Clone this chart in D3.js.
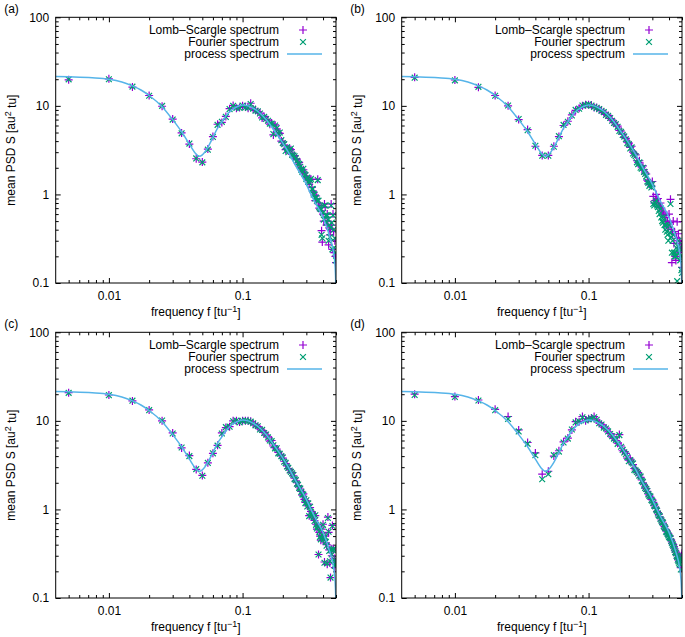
<!DOCTYPE html>
<html><head><meta charset="utf-8">
<script src="https://cdn.jsdelivr.net/npm/d3@7"></script>
<style>
body{margin:0;background:#fff}
text{font-family:"Liberation Sans",Arial,Helvetica,sans-serif;font-size:12px;fill:#000}
</style>
</head><body>
<svg id="chart" width="685" height="637"></svg>
<script>
// ---------------- data ----------------
const freq = [0.005,0.01,0.015,0.02,0.025,0.03,0.035,0.04,0.045,0.05,
0.055,0.06,0.065,0.07,0.075,0.08,0.085,0.09,0.095,0.1,
0.105,0.11,0.115,0.12,0.125,0.13,0.135,0.14,0.145,0.15,
0.155,0.16,0.165,0.17,0.175,0.18,0.185,0.19,0.195,0.2,
0.205,0.21,0.215,0.22,0.225,0.23,0.235,0.24,0.245,0.25,
0.255,0.26,0.265,0.27,0.275,0.28,0.285,0.29,0.295,0.3,
0.305,0.31,0.315,0.32,0.325,0.33,0.335,0.34,0.345,0.35,
0.355,0.36,0.365,0.37,0.375,0.38,0.385,0.39,0.395,0.4,
0.405,0.41,0.415,0.42,0.425,0.43,0.435,0.44,0.445,0.45,
0.455,0.46,0.465,0.47,0.475,0.48,0.485,0.49,0.495,0.5];

const processFreq = [0.004,0.005,0.0075,0.01,0.0125,0.015,0.0175,0.02,0.025,0.03,0.035,0.04,0.045,0.0475,0.05,0.055,0.06,0.065,0.07,0.075,0.08,0.09,0.1,0.11,0.12,0.13,0.15,0.175,0.2,0.22,0.25,0.3,0.325,0.35,0.4,0.45,0.48,0.49,0.495,0.4975,0.5];
const processPSD  = [21.5,21.3,20.8,20.0,18.6,16.8,15.0,13.1,9.8,7.0,5.1,3.7,2.85,2.7,2.8,3.4,4.4,5.6,6.6,7.7,8.6,9.7,10.2,10.0,9.4,8.7,7.0,5.1,3.8,3.0,2.1,1.3,1.0,0.8,0.55,0.33,0.22,0.17,0.13,0.1,0.05];

const lombA = [19.7,20.2,16.3,13.1,9.9,7.1,4.95,3.7,2.53,2.32,
3.25,4.5,6.2,6.5,7.6,9.3,10.1,9.4,9.6,10.0,
9.7,9.4,10.7,9.2,8.9,8.6,8.3,7.3,7.6,7.0,
6.9,6.2,6.4,4.7,6.1,5.5,5.0,4.9,4.0,3.9,
3.6,3.2,3.3,3.1,3.3,3.2,2.9,2.7,2.75,2.5,
2.5,2.2,2.3,2.0,1.95,1.84,1.9,1.75,1.6,1.55,
1.5,1.45,1.3,1.48,1.48,1.2,1.1,1.05,0.98,0.85,
0.96,0.9,1.48,0.8,0.7,0.75,0.65,0.39,0.29,0.6,
0.5,0.78,0.72,0.55,0.45,0.6,0.5,0.27,0.42,0.35,
0.4,0.78,0.45,0.24,0.6,0.38,0.22,0.3,0.2,0.17];
const fourierA = [19.9,20.0,16.5,13.0,10.0,7.0,4.9,3.75,2.55,2.3,
3.2,4.45,6.1,6.6,7.5,9.2,10.0,9.5,9.5,10.1,
9.6,9.5,10.5,9.3,8.8,8.7,8.2,7.4,7.5,7.1,
6.8,6.3,6.3,4.8,6.0,5.6,4.9,5.0,4.1,3.8,
3.7,3.1,3.4,3.0,3.2,3.3,2.8,2.75,2.7,2.55,
2.4,2.25,2.2,2.05,1.9,1.8,1.95,1.7,1.65,1.5,
1.55,1.4,1.35,1.45,1.5,1.15,1.15,1.0,1.0,0.9,
0.92,0.85,1.45,0.85,0.72,0.7,0.68,0.35,0.32,0.62,
0.52,0.75,0.75,0.58,0.48,0.58,0.52,0.3,0.45,0.33,
0.42,0.75,0.48,0.24,0.58,0.4,0.25,0.32,0.22,0.18];

const lombB = [21.0,19.6,16.2,13.1,10.0,7.0,5.4,3.5,2.76,2.76,
3.5,4.5,6.0,6.7,7.9,8.9,9.4,10.0,10.3,10.3,
10.2,9.6,9.6,9.1,8.9,8.4,8.0,7.8,7.2,6.9,
6.5,6.1,5.9,5.3,5.2,4.8,4.4,4.3,3.9,3.8,
3.4,3.5,3.0,2.9,2.8,2.4,2.3,2.4,2.1,2.0,
2.1,1.9,1.75,1.7,1.45,1.4,1.3,1.35,1.25,1.4,
0.95,0.8,0.85,1.0,0.88,0.9,0.78,0.72,0.8,0.7,
0.65,0.6,0.63,0.55,0.5,0.58,0.45,0.5,0.42,0.6,
0.48,0.88,0.4,0.17,0.36,0.5,0.28,0.38,0.2,0.18,
0.32,0.49,0.3,0.36,0.25,0.3,0.22,0.28,0.25,0.15];
const fourierB = [20.8,19.4,16.4,13.0,10.1,7.1,5.3,3.55,2.74,2.74,
3.45,4.55,6.1,6.6,7.8,9.0,9.3,10.1,10.2,10.4,
10.1,9.7,9.5,9.2,8.8,8.5,7.9,7.7,7.3,6.8,
6.4,6.2,5.8,5.2,5.1,4.7,4.5,4.2,3.8,3.7,
3.3,3.4,2.9,2.8,2.7,2.3,2.2,2.3,2.0,1.95,
2.0,1.8,1.7,1.6,1.4,1.35,1.25,1.3,1.2,1.3,
0.78,0.75,0.8,0.85,0.75,0.72,0.65,0.6,0.7,0.55,
0.5,0.48,0.55,0.45,0.4,0.45,0.38,0.35,0.3,0.45,
0.37,0.78,0.33,0.22,0.3,0.35,0.22,0.2,0.22,0.2,
0.25,0.105,0.26,0.3,0.22,0.25,0.18,0.2,0.14,0.13];

const lombC = [20.8,19.6,16.8,13.3,10.0,7.3,4.95,4.06,2.83,2.42,
3.36,4.3,5.3,7.3,8.4,8.6,10.0,10.0,9.7,10.0,
10.0,10.0,9.9,9.3,9.0,8.6,8.1,7.8,7.4,6.9,
6.6,5.9,6.0,5.2,5.0,4.8,4.4,4.2,4.1,3.8,
3.5,3.3,3.1,2.9,2.8,2.6,2.6,2.4,2.25,2.1,
2.0,1.85,1.8,1.7,1.6,1.45,1.5,1.3,1.2,1.25,
1.1,1.15,0.85,1.05,0.95,0.85,0.9,0.8,0.75,0.85,
0.68,0.6,0.65,0.31,0.55,0.5,0.45,0.6,0.5,0.68,
0.45,0.255,0.5,0.42,0.4,0.24,0.82,0.55,0.35,0.25,
0.17,0.36,0.3,0.66,0.36,0.35,0.28,0.22,0.25,0.255];
const fourierC = [20.7,19.5,16.9,13.2,10.1,7.2,5.0,4.0,2.85,2.4,
3.35,4.3,5.25,7.2,8.5,8.6,9.9,10.1,9.6,10.0,
10.1,9.9,9.8,9.4,8.9,8.7,8.0,7.9,7.3,7.0,
6.5,6.0,5.9,5.3,4.9,4.9,4.3,4.25,4.0,3.85,
3.45,3.35,3.05,2.95,2.75,2.65,2.55,2.45,2.2,2.15,
1.95,1.9,1.75,1.72,1.58,1.48,1.47,1.32,1.18,1.27,
1.08,1.17,0.84,1.07,0.93,0.86,0.88,0.82,0.74,0.86,
0.67,0.61,0.64,0.31,0.56,0.49,0.46,0.59,0.51,0.67,
0.46,0.25,0.49,0.43,0.39,0.245,0.8,0.56,0.34,0.26,
0.17,0.35,0.31,0.65,0.35,0.36,0.27,0.23,0.24,0.25];

const lombD = [20.0,18.8,17.2,13.5,11.2,7.9,5.7,4.35,2.5,2.7,
4.0,4.6,5.8,6.4,7.9,9.8,9.8,11.2,10.0,10.6,
10.8,11.2,10.2,9.5,9.0,8.5,8.3,7.5,7.2,6.6,
6.4,6.0,5.6,7.0,5.2,4.6,4.5,4.3,3.8,3.6,
3.7,3.5,3.2,2.9,2.8,2.7,2.6,2.45,2.3,2.15,
2.0,1.9,1.8,1.72,1.6,1.5,1.45,1.38,1.3,1.28,
1.2,1.12,1.06,1.03,0.95,0.92,0.88,0.82,0.8,0.76,
0.74,0.7,0.67,0.64,0.6,0.58,0.57,0.54,0.53,0.5,
0.5,0.46,0.45,0.43,0.41,0.4,0.38,0.36,0.34,0.33,
0.31,0.3,0.28,0.27,0.26,0.25,0.28,0.22,0.3,0.32];
const fourierD = [19.6,18.6,17.0,13.2,10.5,7.6,5.5,4.1,2.19,2.5,
4.1,4.5,5.7,6.3,8.0,9.6,9.9,11.0,10.1,10.4,
10.6,11.0,10.3,9.4,9.1,8.4,8.2,7.6,7.1,6.7,
6.3,6.1,5.5,6.9,5.1,4.7,4.4,4.2,3.9,3.5,
3.6,3.4,3.3,2.8,2.75,2.65,2.55,2.4,2.35,2.1,
2.05,1.85,1.75,1.7,1.62,1.48,1.42,1.4,1.28,1.25,
1.18,1.1,1.08,1.0,0.97,0.9,0.86,0.84,0.78,0.75,
0.72,0.71,0.65,0.63,0.61,0.56,0.55,0.53,0.51,0.49,
0.48,0.47,0.44,0.42,0.4,0.39,0.37,0.35,0.33,0.32,
0.3,0.29,0.27,0.26,0.25,0.24,0.26,0.21,0.28,0.3];

const panelLabels = ["(a)","(b)","(c)","(d)"];
const lombSeries = [lombA, lombB, lombC, lombD];
const fourierSeries = [fourierA, fourierB, fourierC, fourierD];
const xDomain = [0.004, 0.5];
const yDomain = [0.1, 100];
const xMajorTicks = [0.01, 0.1];
const xMajorLabels = ["0.01", "0.1"];
const xMinorTicks = [0.005,0.006,0.007,0.008,0.009,0.02,0.03,0.04,0.05,0.06,0.07,0.08,0.09,0.2,0.3,0.4,0.5];
const yMajorTicks = [0.1, 1, 10, 100];
const yMajorLabels = ["0.1", "1", "10", "100"];
const yMinorTicks = [0.2,0.3,0.4,0.5,0.6,0.7,0.8,0.9,2,3,4,5,6,7,8,9,20,30,40,50,60,70,80,90];
const legendLabels = ["Lomb\u2013Scargle spectrum", "Fourier spectrum", "process spectrum"];

// ---------------- layout ----------------
const COL_LS = "#9400d3", COL_F = "#009e73", COL_P = "#56b4e9";
const PW = 280.3, PH = 265.7;
const origins = [[55.7,17.3],[401.7,17.3],[55.7,332.3],[401.7,332.3]];
const svg = d3.select("#chart");
const x = d3.scaleLog().domain(xDomain).range([0, PW]);
const y = d3.scaleLog().domain(yDomain).range([PH, 0]);

const plusPath = "M-4,0H4M0,-4V4";
const crossPath = "M-2.9,-2.9L2.9,2.9M-2.9,2.9L2.9,-2.9";

origins.forEach((o, i) => {
  const g = svg.append("g").attr("transform", `translate(${o[0]},${o[1]})`);
  const cid = "clip" + i;
  g.append("clipPath").attr("id", cid).append("rect").attr("width", PW).attr("height", PH);

  const styleAxis = sel => { sel.select(".domain").remove(); sel.selectAll("line").attr("stroke", "#000"); };
  const lab = (vals, labs) => d => labs[vals.indexOf(d)];
  g.append("g").attr("transform", `translate(0,${PH})`)
    .call(d3.axisBottom(x).tickValues(xMajorTicks).tickFormat(lab(xMajorTicks, xMajorLabels)).tickSize(-5).tickPadding(8.5))
    .call(styleAxis)
    .call(s => s.selectAll("text").attr("font-size", 12).attr("font-family", "Liberation Sans, Arial, sans-serif"));
  g.append("g").attr("transform", `translate(0,${PH})`)
    .call(d3.axisBottom(x).tickValues(xMinorTicks).tickFormat("").tickSize(-3)).call(styleAxis);
  g.append("g").call(d3.axisTop(x).tickValues(xMajorTicks).tickFormat("").tickSize(-5)).call(styleAxis);
  g.append("g").call(d3.axisTop(x).tickValues(xMinorTicks).tickFormat("").tickSize(-3)).call(styleAxis);
  g.append("g")
    .call(d3.axisLeft(y).tickValues(yMajorTicks).tickFormat(lab(yMajorTicks, yMajorLabels)).tickSize(-5).tickPadding(6.5))
    .call(styleAxis)
    .call(s => s.selectAll("text").attr("font-size", 12).attr("font-family", "Liberation Sans, Arial, sans-serif"));
  g.append("g").call(d3.axisLeft(y).tickValues(yMinorTicks).tickFormat("").tickSize(-3)).call(styleAxis);
  g.append("g").attr("transform", `translate(${PW},0)`)
    .call(d3.axisRight(y).tickValues(yMajorTicks).tickFormat("").tickSize(-5)).call(styleAxis);
  g.append("g").attr("transform", `translate(${PW},0)`)
    .call(d3.axisRight(y).tickValues(yMinorTicks).tickFormat("").tickSize(-3)).call(styleAxis);

  // data
  const dg = g.append("g").attr("clip-path", `url(#${cid})`);
  const line = d3.line().x(d => x(d[0])).y(d => y(d[1])).curve(d3.curveMonotoneX);
  const lsData = freq.map((f, k) => [f, lombSeries[i][k]]);
  const fData = freq.map((f, k) => [f, fourierSeries[i][k]]);
  dg.append("g").selectAll("path").data(lsData).join("path")
    .attr("d", plusPath).attr("transform", d => `translate(${x(d[0])},${y(d[1])})`)
    .attr("stroke", COL_LS).attr("stroke-width", 1.2).attr("fill", "none");
  dg.append("g").selectAll("path").data(fData).join("path")
    .attr("d", crossPath).attr("transform", d => `translate(${x(d[0])},${y(d[1])})`)
    .attr("stroke", COL_F).attr("stroke-width", 1.2).attr("fill", "none");
  dg.append("path").datum(processFreq.map((f, k) => [f, processPSD[k]]))
    .attr("d", line).attr("fill", "none").attr("stroke", COL_P).attr("stroke-width", 1.5);

  // frame
  g.append("rect").attr("width", PW).attr("height", PH).attr("fill", "none").attr("stroke", "#000").attr("stroke-width", 1);

  // legend
  const lg = g.append("g");
  legendLabels.forEach((t, r) => {
    const ly = 12.7 + r * 12;
    lg.append("text").attr("x", PW - 57).attr("y", ly).attr("dy", "0.35em").attr("text-anchor", "end").text(t);
  });
  lg.append("path").attr("d", plusPath).attr("transform", `translate(${PW - 33},12.7)`).attr("stroke", COL_LS).attr("stroke-width", 1.2).attr("fill", "none");
  lg.append("path").attr("d", crossPath).attr("transform", `translate(${PW - 33},24.7)`).attr("stroke", COL_F).attr("stroke-width", 1.2).attr("fill", "none");
  lg.append("line").attr("x1", PW - 49).attr("x2", PW - 14).attr("y1", 36.7).attr("y2", 36.7).attr("stroke", COL_P).attr("stroke-width", 1.5);

  // panel label
  g.append("text").attr("x", -51.5).attr("y", -4.3).text(panelLabels[i]);

  // y label
  const yl = g.append("text").attr("transform", `translate(-41,${PH / 2}) rotate(-90)`).attr("text-anchor", "middle");
  yl.append("tspan").text("mean PSD S [au");
  yl.append("tspan").attr("dy", "-0.45em").attr("font-size", 9).text("2");
  yl.append("tspan").attr("dy", "0.45em").text(" tu]");

  // x label
  const xl = g.append("text").attr("x", PW / 2).attr("y", PH + 33).attr("text-anchor", "middle");
  xl.append("tspan").text("frequency f [tu");
  xl.append("tspan").attr("dy", "-0.45em").attr("font-size", 9).text("\u22121");
  xl.append("tspan").attr("dy", "0.45em").text("]");
});
</script>
</body></html>
